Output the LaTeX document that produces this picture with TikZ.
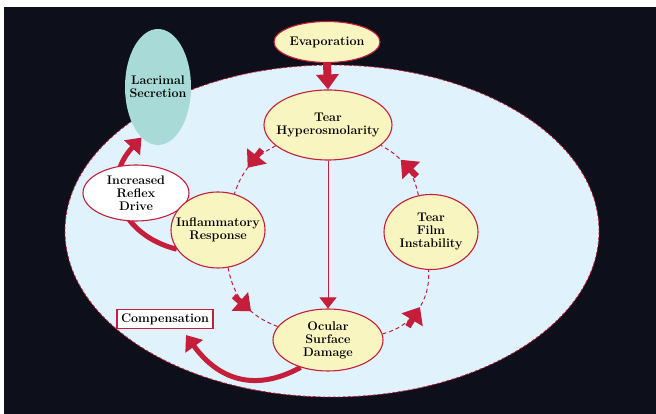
\documentclass[tikz,border=0pt]{standalone}
\usetikzlibrary{shapes.geometric,arrows.meta,decorations.markings}

\definecolor{eyeRed}{HTML}{C41E3A}
\definecolor{eyeYellow}{HTML}{F9F5C0}
\definecolor{eyeTeal}{HTML}{A8DBD7}
\definecolor{eyeBlue}{HTML}{E0F2FC}
\definecolor{eyeDark}{HTML}{0D0F1A}

\pgfdeclarelayer{back}
\pgfdeclarelayer{edges}
\pgfsetlayers{back,edges,main}

\begin{document}
\begin{tikzpicture}
  [x=1pt,y=1pt,
   eyeNode/.style={ellipse,inner sep=0pt,inner xsep=-15pt,align=center,
                   font=\fontsize{12.5}{13}\selectfont\bfseries},
   stageN/.style={eyeNode,draw=eyeRed,line width=1.1pt,fill=eyeYellow},
   lacN/.style={eyeNode,fill=eyeTeal,inner xsep=-22pt},
   reflexN/.style={eyeNode,draw=eyeRed,line width=1.1pt,fill=white},
   compN/.style={rectangle,draw=eyeRed,line width=1.1pt,fill=white,inner sep=0pt,
                 minimum width=96pt,minimum height=19pt,
                 font=\fontsize{12.5}{13}\selectfont\bfseries},
   bigArr/.style={eyeRed,line width=8pt,-{Triangle[length=15pt,width=22pt]}},
   thinArr/.style={eyeRed,line width=1pt,-{Triangle[length=11pt,width=17pt]}},
   swoopArr/.style={eyeRed,line width=5pt,-{Triangle[length=14pt,width=21pt]}},
   cycArr/.style={eyeRed,line width=1pt,dash pattern=on 4pt off 3pt,
     postaction={decorate,decoration={markings,mark=at position #1 with
       {\draw[solid,line width=6pt,-{Triangle[length=15pt,width=24pt]}] (-23pt,0) -- (0,0);}}}},
  ]

 \useasboundingbox (0,0) rectangle (656,414);
 \begin{pgfonlayer}{back}
  \fill[white] (0,0) rectangle (656,414);
  \fill[eyeDark] (4,0) rectangle (656,407);
  \fill[eyeBlue] (332,183) ellipse [x radius=267pt,y radius=166pt];
  \draw[eyeRed,line width=0.8pt,dash pattern=on 3pt off 2pt]
    (332,183) ellipse [x radius=267pt,y radius=166pt];
 \end{pgfonlayer}

 \node[stageN,minimum width=106pt,minimum height=41pt] (evap) at (327,372) {Evaporation};
 \node[stageN,minimum width=128pt,minimum height=70pt] (th) at (328,289) {Tear\\Hyperosmolarity};
 \node[lacN,minimum width=66pt,minimum height=116pt] (lac) at (158,327) {Lacrimal\\Secretion};
 \node[reflexN,minimum width=106pt,minimum height=56pt] (rd) at (136,221) {Increased\\Reflex\\Drive};
 \node[stageN,minimum width=94pt,minimum height=76pt] (ir) at (218,184) {Inflammatory\\Response};
 \node[stageN,minimum width=94pt,minimum height=75pt] (tfi) at (431,182) {Tear\\Film\\Instability};
 \node[stageN,minimum width=110pt,minimum height=62pt] (osd) at (328,74) {Ocular\\Surface\\Damage};
 \node[compN] (comp) at (165,95) {Compensation};

 \begin{pgfonlayer}{edges}
  \draw[bigArr] (evap.south) -- (th.north);
  \draw[thinArr] (th) -- (osd);
  % dashed vicious circle
  \draw[cycArr=0.55] (th) to[bend right=22] (ir);
  \draw[cycArr=0.62] (ir) to[bend right=30] (osd);
  \draw[cycArr=0.55] (osd) to[bend right=40] (tfi);
  \draw[cycArr=0.62] (tfi) to[bend right=25] (th);
  % feedback swoops
  \draw[swoopArr] (ir.205) .. controls (120,179) and (100,232) .. (lac.-108);
  \draw[swoopArr] (osd.225) .. controls (250,19) and (215,39) .. ([shift={(21pt,-6pt)}]comp.south);
 \end{pgfonlayer}
\end{tikzpicture}
\end{document}
